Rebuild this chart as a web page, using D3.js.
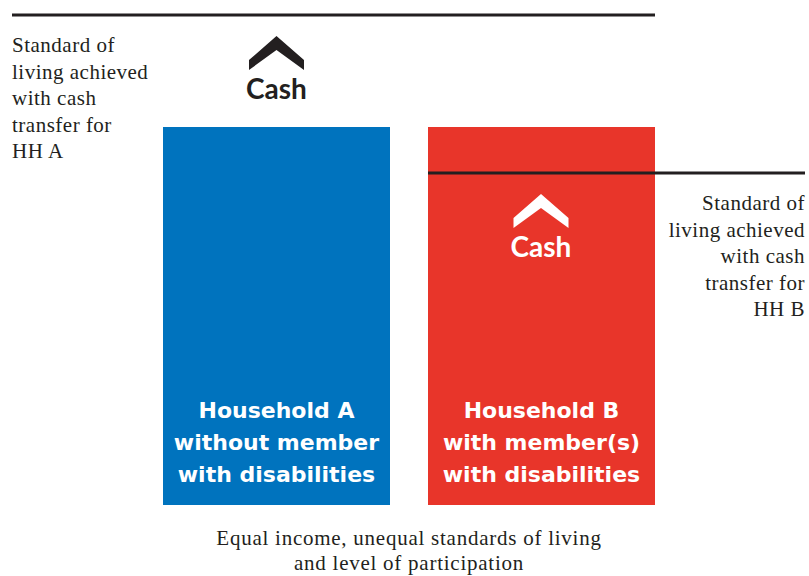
<!DOCTYPE html>
<html>
<head>
<meta charset="utf-8">
<script src="https://cdn.jsdelivr.net/npm/d3@7"></script>
<style>
  body { margin: 0; background: #fff; }
</style>
</head>
<body>
<script>
const w = 809;
const h = 576;

// data
const households = ["A", "B"];
const income = [378, 378];          // equal income (bar height)
const standardReached = [490, 332]; // standard of living achieved with cash transfer
const barLabels = [
  ["Household A", "without member", "with disabilities"],
  ["Household B", "with member(s)", "with disabilities"]
];
const sideNotes = [
  ["Standard of", "living achieved", "with cash", "transfer for", "HH A"],
  ["Standard of", "living achieved", "with cash", "transfer for", "HH B"]
];
const caption = ["Equal income, unequal standards of living", "and level of participation"];
const colors = ["#0073be", "#e8352a"];

let svg = d3.select("body").append("svg")
    .attr("width", w)
    .attr("height", h)
    .style("background-color", "#fff");

var x = d3.scaleBand()
    .domain(households)
    .range([163, 655])
    .paddingInner(0.1434)
    .paddingOuter(0);

var y = d3.scaleLinear()
    .domain([0, 490])
    .range([505, 15]);

// bars
svg.selectAll("rect.bar")
    .data(households)
    .enter().append("rect")
    .attr("class", "bar")
    .attr("x", function (d) { return x(d); })
    .attr("y", function (d, i) { return y(income[i]); })
    .attr("width", x.bandwidth())
    .attr("height", function (d, i) { return y(0) - y(income[i]); })
    .attr("fill", function (d, i) { return colors[i]; });

// standard of living lines
svg.append("line")
    .attr("x1", 12).attr("x2", x("B") + x.bandwidth())
    .attr("y1", y(standardReached[0])).attr("y2", y(standardReached[0]))
    .attr("stroke", "#231f20").attr("stroke-width", 3);
svg.append("line")
    .attr("x1", x("B")).attr("x2", 805)
    .attr("y1", y(standardReached[1])).attr("y2", y(standardReached[1]))
    .attr("stroke", "#231f20").attr("stroke-width", 3);

// cash chevrons + labels
function cash(cx, top, col) {
    svg.append("path")
        .attr("d", "M" + (cx - 27.5) + "," + (top + 24) + " L" + cx + "," + top + " L" + (cx + 27.5) + "," + (top + 24) +
            " L" + (cx + 27.5) + "," + (top + 34) + " L" + cx + "," + (top + 14) + " L" + (cx - 27.5) + "," + (top + 34) + " Z")
        .attr("fill", col);
    svg.append("text")
        .attr("x", cx).attr("y", top + 63)
        .attr("text-anchor", "middle")
        .attr("font-family", "Lato, sans-serif")
        .attr("font-weight", "bold")
        .attr("font-size", 28)
        .attr("fill", col)
        .text("Cash");
}
cash(x("A") + x.bandwidth() / 2, 36, "#231f20");
cash(x("B") + x.bandwidth() / 2 - 0.5, 194, "#fff");

// labels in bars
households.forEach(function (d, i) {
    svg.append("g").selectAll("text")
        .data(barLabels[i])
        .enter().append("text")
        .attr("x", x(d) + x.bandwidth() / 2)
        .attr("y", function (t, j) { return 418 + j * 32; })
        .attr("text-anchor", "middle")
        .attr("font-family", "'DejaVu Sans', sans-serif")
        .attr("font-weight", "bold")
        .attr("font-size", 22)
        .attr("fill", "#fff")
        .text(function (t) { return t; });
});

// side notes
svg.append("g").selectAll("text")
    .data(sideNotes[0])
    .enter().append("text")
    .attr("x", 12)
    .attr("y", function (t, j) { return 52 + j * 26.5; })
    .attr("font-family", "'Liberation Serif', serif")
    .attr("font-size", 21)
    .attr("letter-spacing", 0.5)
    .attr("fill", "#231f20")
    .text(function (t) { return t; });

svg.append("g").selectAll("text")
    .data(sideNotes[1])
    .enter().append("text")
    .attr("x", 805)
    .attr("y", function (t, j) { return 210 + j * 26.5; })
    .attr("text-anchor", "end")
    .attr("font-family", "'Liberation Serif', serif")
    .attr("font-size", 21)
    .attr("letter-spacing", 0.5)
    .attr("fill", "#231f20")
    .text(function (t) { return t; });

// caption
svg.append("g").selectAll("text")
    .data(caption)
    .enter().append("text")
    .attr("x", 409)
    .attr("y", function (t, j) { return 545 + j * 25; })
    .attr("text-anchor", "middle")
    .attr("font-family", "'Liberation Serif', serif")
    .attr("font-size", 21)
    .attr("letter-spacing", 0.75)
    .attr("fill", "#231f20")
    .text(function (t) { return t; });
</script>
</body>
</html>
